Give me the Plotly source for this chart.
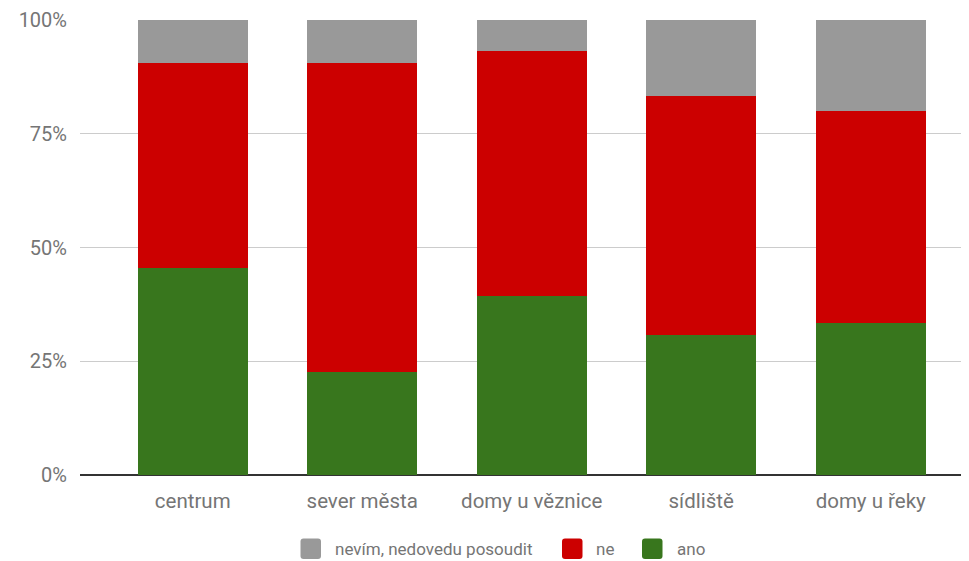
import plotly.graph_objects as go

categories = ["centrum", "sever města", "domy u věznice", "sídliště", "domy u řeky"]
ano = [45.5, 22.6, 39.3, 30.8, 33.4]
ne = [45.0, 67.9, 53.9, 52.5, 46.6]
nevim = [9.5, 9.5, 6.8, 16.7, 20.0]
tick_vals = [0, 25, 50, 75, 100]
tick_text = ["0%", "25%", "50%", "75%", "100%"]

series = [("ano", ano, "#38761d"), ("ne", ne, "#cc0000"), ("nevím, nedovedu posoudit", nevim, "#999999")]

# layout geometry (figure pixels); page body adds 8px offset
W, H = 961, 553
ML, MR, MT, MB = 72, 0, 12, 86
PW, PH = W - ML - MR, H - MT - MB
OFF = 8

def px(wx):
    return (wx - OFF - ML) / PW

def py(wy):
    return (H - MB + OFF - wy) / PH

fig = go.Figure()
for name, vals, color in series:
    fig.add_trace(go.Bar(x=categories, y=vals, name=name, showlegend=False,
                         marker=dict(color=color, line=dict(width=0))))

# manual legend (reference order: nevím, ne, ano)
legend_items = [
    ("nevím, nedovedu posoudit", "#999999", 300.5, 335),
    ("ne", "#cc0000", 562, 596),
    ("ano", "#38761d", 642, 676.5),
]
shapes = []
annotations = []
sq = 20.5
top, cy = 538.5, 549
r = 3
for name, color, sx, tx in legend_items:
    x0, x1, y0, y1 = sx, sx + sq, top, top + sq
    path = (f"M {px(x0 + r)} {py(y0)} L {px(x1 - r)} {py(y0)} Q {px(x1)} {py(y0)} {px(x1)} {py(y0 + r)} "
            f"L {px(x1)} {py(y1 - r)} Q {px(x1)} {py(y1)} {px(x1 - r)} {py(y1)} "
            f"L {px(x0 + r)} {py(y1)} Q {px(x0)} {py(y1)} {px(x0)} {py(y1 - r)} "
            f"L {px(x0)} {py(y0 + r)} Q {px(x0)} {py(y0)} {px(x0 + r)} {py(y0)} Z")
    shapes.append(dict(type="path", xref="paper", yref="paper", path=path,
                       fillcolor=color, line=dict(width=0)))
    annotations.append(dict(text=name, xref="paper", yref="paper", x=px(tx - 2), y=py(cy),
                            xanchor="left", yanchor="middle", showarrow=False,
                            font=dict(family="Roboto", size=17, color="#757575")))

fig.update_layout(
    barmode="stack",
    bargap=0.35,
    width=W, height=H,
    margin=dict(l=ML, r=MR, t=MT, b=MB, autoexpand=False),
    paper_bgcolor="white", plot_bgcolor="white",
    font=dict(family="Roboto", size=18, color="#757575"),
    showlegend=False,
    shapes=shapes,
    annotations=annotations,
    xaxis=dict(range=[-0.665, 4.58], showgrid=False, ticks="", automargin=False,
               ticklabelstandoff=11, tickfont=dict(size=20.5)),
    yaxis=dict(range=[0, 100], tickvals=tick_vals, ticktext=tick_text, automargin=False,
               gridcolor="#cccccc", gridwidth=1, zeroline=True, zerolinecolor="#333333",
               zerolinewidth=2, ticks="", ticklabelstandoff=12, tickfont=dict(size=20)),
    hovermode=False,
)

fig.write_html("out.html")
